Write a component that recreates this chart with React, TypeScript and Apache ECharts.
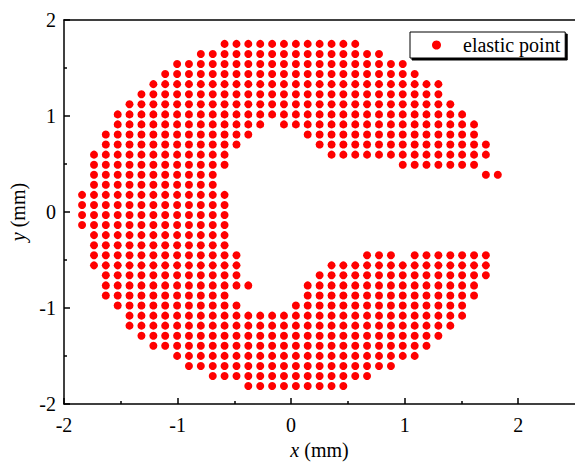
import React, { useEffect, useRef } from "react";
import * as echarts from "echarts";

// Column x positions (mm) of the node grid
const xCols: number[] = [
  -1.841, -1.736, -1.632, -1.527, -1.423, -1.318, -1.213, -1.109, -1.004, -0.9,
  -0.795, -0.69, -0.586, -0.481, -0.377, -0.272, -0.167, -0.063, 0.042, 0.146,
  0.251, 0.356, 0.46, 0.565, 0.669, 0.774, 0.879, 0.983, 1.088, 1.192,
  1.297, 1.402, 1.506, 1.611, 1.715, 1.82,
];

// Row y positions (mm), top to bottom
const yRows: number[] = [
  1.751, 1.646, 1.541, 1.437, 1.332, 1.227, 1.122, 1.017, 0.913, 0.808,
  0.703, 0.598, 0.493, 0.389, 0.284, 0.179, 0.074, -0.031, -0.135, -0.24,
  -0.345, -0.45, -0.555, -0.659, -0.764, -0.869, -0.974, -1.079, -1.183, -1.288,
  -1.393, -1.498, -1.603, -1.707, -1.812,
];

// For each row: runs of occupied columns [firstCol, lastCol]
const rowSegments: number[][][] = [
  [[12, 23]],
  [[10, 25]],
  [[8, 27]],
  [[7, 28]],
  [[6, 30]],
  [[5, 30]],
  [[4, 31]],
  [[3, 32]],
  [[3, 15], [17, 33]],
  [[2, 14], [19, 33]],
  [[2, 13], [20, 34]],
  [[1, 12], [21, 34]],
  [[1, 12], [27, 33]],
  [[1, 11], [34, 35]],
  [[1, 11]],
  [[0, 12]],
  [[0, 12]],
  [[0, 12]],
  [[0, 12]],
  [[1, 12]],
  [[1, 12]],
  [[1, 13], [24, 26], [28, 34]],
  [[1, 13], [21, 34]],
  [[2, 13], [20, 34]],
  [[2, 14], [19, 33]],
  [[2, 12], [19, 33]],
  [[3, 13], [18, 32]],
  [[4, 32]],
  [[4, 31]],
  [[5, 30]],
  [[6, 29]],
  [[8, 28]],
  [[9, 26]],
  [[11, 24]],
  [[14, 22]],
];

const seriesName = "elastic point";
const xMajorTicks = [-2, -1, 0, 1, 2];
const xMinorTicks = [-1.5, -0.5, 0.5, 1.5];

const FONT = '"Liberation Serif", "Times New Roman", serif';

export default function App() {
  const ref = useRef<HTMLDivElement>(null);

  useEffect(() => {
    if (!ref.current) return;
    const chart = echarts.init(ref.current, undefined, { renderer: "svg" });

    const points: [number, number][] = [];
    rowSegments.forEach((segs, i) => {
      segs.forEach(([a, b]) => {
        for (let j = a; j <= b; j++) points.push([xCols[j], yRows[i]]);
      });
    });

    const axisLine = { show: true, onZero: false, lineStyle: { color: "#000", width: 1.5 } };
    const nameStyle = {
      fontFamily: FONT,
      fontSize: 20,
      color: "#000",
      rich: {
        i: { fontFamily: FONT, fontSize: 20, fontStyle: "italic", color: "#000" },
      },
    };

    chart.setOption({
      animation: false,
      backgroundColor: "#fff",
      grid: { left: 64, right: 0, top: 20, bottom: 51 },
      legend: {
        data: [seriesName],
        left: 410,
        top: 32,
        orient: "vertical",
        icon: "circle",
        itemWidth: 9,
        itemHeight: 9,
        padding: [3, 5, 3, 22],
        borderColor: "#000",
        borderWidth: 1,
        backgroundColor: "#fff",
        shadowColor: "#000",
        shadowBlur: 0,
        shadowOffsetX: 2,
        shadowOffsetY: 2,
        textStyle: {
          fontFamily: FONT,
          fontSize: 20,
          color: "#000",
          padding: [0, 0, 0, 17],
        },
      },
      xAxis: [
        {
          type: "value",
          min: -2,
          max: 2.5,
          position: "bottom",
          axisLine,
          splitLine: { show: false },
          axisTick: {
            show: true,
            inside: true,
            length: 6,
            customValues: xMajorTicks,
            lineStyle: { color: "#000", width: 1.5 },
          },
          axisLabel: {
            customValues: xMajorTicks,
            fontFamily: FONT,
            fontSize: 20,
            color: "#000",
            margin: 11,
          },
          name: "{i|x} (mm)",
          nameLocation: "middle",
          nameGap: 33,
          nameTextStyle: nameStyle,
        },
        {
          type: "value",
          min: -2,
          max: 2.5,
          position: "bottom",
          axisLine: { show: false, onZero: false },
          splitLine: { show: false },
          axisTick: {
            show: true,
            inside: true,
            length: 3,
            customValues: xMinorTicks,
            lineStyle: { color: "#000", width: 1.5 },
          },
          axisLabel: { show: false },
        },
        {
          type: "value",
          min: -2,
          max: 2.5,
          position: "top",
          axisLine,
          splitLine: { show: false },
          axisTick: { show: false },
          axisLabel: { show: false },
        },
      ],
      yAxis: {
        type: "value",
        min: -2,
        max: 2,
        interval: 1,
        position: "left",
        axisLine,
        splitLine: { show: false },
        axisTick: {
          show: true,
          inside: true,
          length: 6,
          lineStyle: { color: "#000", width: 1.5 },
        },
        minorTick: {
          show: true,
          splitNumber: 2,
          length: 3,
          lineStyle: { color: "#000", width: 1.5 },
        },
        minorSplitLine: { show: false },
        axisLabel: {
          fontFamily: FONT,
          fontSize: 20,
          color: "#000",
          margin: 8,
        },
        name: "{i|y} (mm)",
        nameLocation: "middle",
        nameGap: 31,
        nameTextStyle: nameStyle,
      },
      series: [
        {
          name: seriesName,
          type: "scatter",
          xAxisIndex: 0,
          yAxisIndex: 0,
          symbol: "circle",
          symbolSize: 8,
          itemStyle: { color: "#ff0000", opacity: 1 },
          data: points,
        },
      ],
    });

    return () => chart.dispose();
  }, []);

  return (
    <div
      ref={ref}
      style={{ position: "absolute", left: 0, top: 0, width: 575, height: 465, background: "#fff" }}
    />
  );
}
